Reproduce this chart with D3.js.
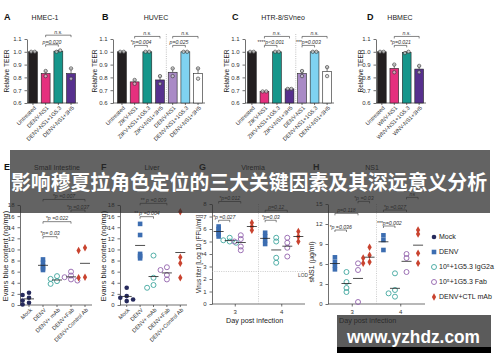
<!DOCTYPE html>
<html>
<head>
<meta charset="utf-8">
<script src="https://cdn.jsdelivr.net/npm/d3@7/dist/d3.min.js"></script>
<style>
body{margin:0;background:#fff;}
svg{display:block;font-family:"Liberation Sans",Arial,sans-serif;}
.axis path,.axis line,.dom{stroke:#333;stroke-width:0.7;fill:none;}
.axis text{font-size:6px;fill:#333;}
.xl text{font-size:5.6px;}
.sig{font-size:5.2px;font-style:italic;fill:#333;}
</style>
</head>
<body>
<div id="chart"></div>
<script>
// ---- top row: relative TEER (two replicates per bar) ----
var teerTicks = [0.6,0.7,0.8,0.9,1.0,1.1];

var hmecLabels = ["Untreated","DENV-NS1","DENV-NS1+1G5.3","DENV-NS1+3H5"];
var hmecReps = [[1.0,1.0],[0.85,0.81],[1.0,1.01],[0.87,0.79]];
var hmecSig = [[1,2,1.055,"p=0.020"],[1,3,1.13,"n.s."]];

var huvecLabels = ["Untreated","ZIKV-NS1","ZIKV-NS1+1G5.3","ZIKV-NS1+3H5","DENV-NS1","DENV-NS1+1G5.3","DENV-NS1+3H5"];
var huvecReps = [[1,1],[0.78,0.75],[1,1.0],[0.81,0.75],[0.87,0.81],[1,1],[0.87,0.79]];
var huvecSig = [[1,2,1.05,"*p=0.004"],[1,3,1.12,"n.s."],[4,5,1.05,"p=0.025"],[4,6,1.12,"n.s."]];

var htrLabels = ["Untreated","ZIKV-NS1","ZIKV-NS1+1G5.3","ZIKV-NS1+3H5","DENV-NS1","DENV-NS1+1G5.3","DENV-NS1+3H5"];
var htrReps = [[1,1],[0.69,0.69],[1,1],[0.71,0.71],[0.85,0.81],[1,1],[0.88,0.81]];
var htrSig = [[1,2,1.05,"****p<0.001"],[1,3,1.12,"n.s."],[4,5,1.05,"***p=0.003"],[4,6,1.12,"n.s."]];

var hbmecLabels = ["Untreated","WNV-NS1","WNV-NS1+1G5.3","WNV-NS1+3H5"];
var hbmecReps = [[1,1],[0.9,0.84],[0.99,1.0],[0.89,0.84]];
var hbmecSig = [[1,2,1.05,"*p=0.021"],[1,3,1.12,"n.s."]];

var barColors4 = ["#231f20","#e5307e","#16968b","#57308e"];
var barColors7 = ["#231f20","#e5307e","#16968b","#57308e","#a98ac6","#7fd2f1","#ffffff"];

// ---- bottom row: Evans blue ----
var evansLabels = ["Mock","DENV","DENV+ mAb","DENV+Fab","DENV+Control Ab"];
var evansTicks = [0,2,4,6,8,10,12,14,16,18];
var intestineVals = [[2.2,1.8,1.3,0.8,0.4,0.1],[8.2,7.6,7.0,6.6,6.3],[5.2,4.7,4.3,3.8],[6.0,5.3,5.0,4.6,4.4],[10.3,9.8,5.0,4.9]];
var intestineSig = [[1,2,12.3,"*p= 0.03"],[1,3,15,"*p =0.022"],[3,4,17.1,"*p =0.037"],[1,4,19,"*p =0.007"]];
var liverVals = [[3.1,1.6,1.3,1.0,0.7],[14.6,12.6,9.2,8.8,8.4],[8.9,4.9,3.6,3.1],[6.8,6.3,5.4,4.6],[16.8,8.6,7.5,4.9]];
var liverSig = [[1,2,15.9,"** p =0.004"],[1,3,18.3,"** p =0.009"]];
var evansMarks = ["mock","denv","mab","fab","ctl"];

// ---- bottom row: viremia and NS1 by day ----
var days = ["3","4"];
var dayMarks = ["denv","mab","fab","ctl"];
var viremiaTicks = [0,1,2,3,4,5,6,7,8];
var viremiaDay3 = [[6.2,6.0,5.8,5.6,5.4],[5.3,5.1,5.0,4.9],[5.5,5.2,5.0,4.6,4.3],[6.5,6.2,5.9]];
var viremiaDay4 = [[5.7,5.4,5.1,4.8],[5.3,5.0,3.7,3.3],[5.3,4.9,4.5,3.8],[5.8,5.4,5.0]];
var viremiaSig = [[0,0,1,6.7,"*p =0.027"],[0,0,2,8.2,"*p=0.012"],[1,0,1,6.7,"*p=0.03"],[1,0,2,7.5,"p=0.12"]];
var viremiaLOD = 2.6;
var ns1Ticks = [0,3,6,9,12,15];
var ns1Day3 = [[7.0,6.3,5.8,5.2],[4.8,3.3,2.4,1.8],[6.1,5.1,0.3],[8.5,7.3,6.9,6.3,6.1]];
var ns1Day4 = [[10.3,9.6,8.1],[4.6,2.1,1.6,1.1],[7.5,6.9,4.8],[11.1,10.5,7.6,6.1]];
var ns1Sig = [[0,0,1,11.1,"*p =0.036"],[0,0,2,13.6,"p=0.118"],[0,2,3,15.4,"*p =0.03"],[1,0,1,11.7,"***p=0.002"],[1,0,2,14.1,"*p =0.027"],[1,2,3,16,"ns"]];
var legendLabels = ["Mock","DENV","10\u2075+1G5.3 IgG2a","10\u2075+1G5.3 Fab","DENV+CTL mAb"];
var legendMarks = ["mock","denv","mab","fab","ctl"];

var svg = d3.select("#chart").append("svg")
    .attr("width",500)
    .attr("height",362);

function $each(arr,fn){ arr.forEach(fn); }

function bracket(g,x1,x2,yy,txt){
    g.append("path")
    .attr("d","M"+x1+","+(yy+2)+"V"+yy+"H"+x2+"V"+(yy+2))
    .attr("fill","none").attr("stroke","#333").attr("stroke-width",0.6);
    g.append("text").attr("class","sig")
    .attr("x",(x1+x2)/2).attr("y",yy-1.2)
    .attr("text-anchor","middle").text(txt);
}

function heading(letter,lx,title,tx,ty){
    svg.append("text").attr("x",lx).attr("y",ty).text(letter)
    .attr("font-weight","bold").attr("font-size",9).attr("fill","#111");
    svg.append("text").attr("x",tx).attr("y",ty).text(title)
    .attr("text-anchor","middle").attr("font-size",7).attr("fill","#222");
}

function yLabel(txt,x,yc,size){
    svg.append("text")
    .attr("transform","translate("+x+","+yc+") rotate(-90)")
    .attr("text-anchor","middle").attr("font-size",size).attr("fill","#222")
    .text(txt);
}

function barPanel(p){
    var g = svg.append("g");
    var y = d3.scaleLinear().domain([0.6,1.1]).range([103,39]);
    var x = d3.scaleBand().domain(p.labels).range(p.range).paddingInner(0.3).paddingOuter(0.12);
    g.append("g").attr("class","axis")
    .attr("transform","translate("+p.axis+",0)")
    .call(d3.axisLeft(y).tickValues(teerTicks).tickFormat(d3.format(".1f")).tickSize(2.5).tickSizeOuter(0));
    g.append("line").attr("class","dom")
    .attr("x1",p.axis).attr("x2",p.range[1]+1)
    .attr("y1",y(0.6)).attr("y2",y(0.6));
    var xg = g.append("g").attr("class","axis xl")
    .attr("transform","translate(0,"+y(0.6)+")")
    .call(d3.axisBottom(x).tickSize(2).tickSizeOuter(0));
    xg.select(".domain").remove();
    xg.selectAll("text")
    .attr("x",0).attr("y",0).attr("dy","0.35em")
    .attr("transform","translate(2,4) rotate(-45)")
    .style("text-anchor","end");

    if(p.split){
        var sx = (x(p.labels[3])+x.bandwidth()+x(p.labels[4]))/2;
        g.append("line").attr("x1",sx).attr("x2",sx).attr("y1",34).attr("y2",y(0.6))
        .attr("stroke","#999").attr("stroke-width",0.6).attr("stroke-dasharray","1,1.2");
    }

    $each(p.reps,function(d,i){
        var m = d3.mean(d), cx = x(p.labels[i])+x.bandwidth()/2;
        var sem = Math.abs(d[0]-d[1])/2;
        if(sem>0.004){
            g.append("path")
            .attr("d","M"+cx+","+y(m)+"V"+y(m+sem)+"M"+(cx-1.6)+","+y(m+sem)+"H"+(cx+1.6))
            .attr("stroke","#222").attr("stroke-width",0.6);
        }
        g.append("rect")
        .attr("x",x(p.labels[i])).attr("width",x.bandwidth())
        .attr("y",y(m)).attr("height",y(0.6)-y(m))
        .attr("fill",p.colors[i]).attr("stroke","#222").attr("stroke-width",0.6);
        $each(d,function(v,k){
            var dx = Math.abs(d[0]-d[1])<0.02 ? (k?1.8:-1.8) : 0;
            g.append("circle").attr("cx",cx+dx).attr("cy",y(v)).attr("r",1.7)
            .attr("fill","rgba(210,210,210,0.7)").attr("stroke","#333").attr("stroke-width",0.6);
        });
    });

    $each(p.sig,function(s){
        var c1 = x(p.labels[s[0]])+x.bandwidth()/2, c2 = x(p.labels[s[1]])+x.bandwidth()/2;
        bracket(g,c1,c2,y(s[2]),s[3]);
    });
}

function drawMark(g,type,cx,cy){
    if(type=="mock"){
        g.append("circle").attr("cx",cx).attr("cy",cy).attr("r",2.3).attr("fill","#262a5c");
    }else if(type=="denv"){
        g.append("rect").attr("x",cx-2.3).attr("y",cy-2.3).attr("width",4.6).attr("height",4.6).attr("fill","#3c6db1");
    }else if(type=="mab"){
        g.append("circle").attr("cx",cx).attr("cy",cy).attr("r",2.5)
        .attr("fill","none").attr("stroke","#3fa69e").attr("stroke-width",0.9);
    }else if(type=="fab"){
        g.append("circle").attr("cx",cx).attr("cy",cy).attr("r",2.5)
        .attr("fill","none").attr("stroke","#9262ad").attr("stroke-width",0.9);
    }else{
        g.append("path").attr("transform","translate("+cx+","+cy+")")
        .attr("d",d3.symbol(d3.symbolDiamond,16)()).attr("fill","#c9432f");
    }
}

function drawPoints(g,vals,cx,y,mark){
    var placed = [];
    $each(vals,function(v){
        var py = y(v), px = cx, k = 0;
        if(mark!="denv"){
            while(k<6 && placed.some(function(q){return Math.abs(q[0]-px)<4.5 && Math.abs(q[1]-py)<3.5;})){
                k++;
                px = cx + (k%2 ? -1 : 1)*Math.ceil(k/2)*3.2;
            }
        }
        placed.push([px,py]);
        drawMark(g,mark,px,py);
    });
    var m = d3.mean(vals);
    g.append("line").attr("x1",cx-5).attr("x2",cx+5).attr("y1",y(m)).attr("y2",y(m))
    .attr("stroke","#222").attr("stroke-width",0.8);
}

function evansPanel(p){
    var g = svg.append("g");
    var y = d3.scaleLinear().domain([0,18]).range([305,205]);
    var x = d3.scaleBand().domain(evansLabels).range(p.range);
    g.append("g").attr("class","axis")
    .attr("transform","translate("+p.axis+",0)")
    .call(d3.axisLeft(y).tickValues(evansTicks).tickSize(2.5).tickSizeOuter(0));
    g.append("line").attr("class","dom")
    .attr("x1",p.axis).attr("x2",p.range[1]).attr("y1",y(0)).attr("y2",y(0));
    var xg = g.append("g").attr("class","axis xl")
    .attr("transform","translate(0,"+y(0)+")")
    .call(d3.axisBottom(x).tickSize(2).tickSizeOuter(0));
    xg.select(".domain").remove();
    xg.selectAll("text")
    .attr("x",0).attr("y",0).attr("dy","0.35em")
    .attr("transform","translate(2,4) rotate(-45)")
    .style("text-anchor","end");
    $each(p.vals,function(vals,i){
        drawPoints(g,vals,x(evansLabels[i])+x.bandwidth()/2,y,evansMarks[i]);
    });
    $each(p.sig,function(s){
        bracket(g,x(evansLabels[s[0]])+x.bandwidth()/2,x(evansLabels[s[1]])+x.bandwidth()/2,y(s[2]),s[3]);
    });
}

function dayPanel(p){
    var g = svg.append("g");
    var y = d3.scaleLinear().domain(p.domain).range([304,204]);
    var xd = d3.scaleBand().domain(days).range(p.range);
    var xi = d3.scaleBand().domain(dayMarks).range([0,xd.bandwidth()]).paddingOuter(0.1);
    function cx(di,gi){ return xd(days[di])+xi(dayMarks[gi])+xi.bandwidth()/2; }
    g.append("g").attr("class","axis")
    .attr("transform","translate("+p.axis+",0)")
    .call(d3.axisLeft(y).tickValues(p.ticks).tickSize(2.5).tickSizeOuter(0));
    var xg = g.append("g").attr("class","axis")
    .attr("transform","translate(0,"+y(0)+")")
    .call(d3.axisBottom(xd).tickSize(2.5).tickSizeOuter(0));
    xg.select(".domain").remove();
    xg.selectAll("text").attr("font-size",6.5);
    g.append("line").attr("class","dom")
    .attr("x1",p.axis).attr("x2",p.range[1]).attr("y1",y(0)).attr("y2",y(0));
    var sx = xd(days[1]);
    g.append("line").attr("x1",sx).attr("x2",sx).attr("y1",204).attr("y2",y(0))
    .attr("stroke","#aaa").attr("stroke-width",0.6).attr("stroke-dasharray","1,1.3");
    if(p.lod){
        g.append("line").attr("x1",p.axis).attr("x2",p.range[1]).attr("y1",y(p.lod)).attr("y2",y(p.lod))
        .attr("stroke","#aaa").attr("stroke-width",0.6).attr("stroke-dasharray","1,1.3");
        g.append("text").attr("x",p.range[1]-7).attr("y",y(p.lod)+5).attr("font-size",4.8)
        .attr("fill","#444").text("LOD");
    }
    $each(p.vals,function(dayVals,di){
        $each(dayVals,function(vals,gi){ drawPoints(g,vals,cx(di,gi),y,dayMarks[gi]); });
    });
    $each(p.sig,function(s){ bracket(g,cx(s[0],s[1]),cx(s[0],s[2]),y(s[3]),s[4]); });
    g.append("text").attr("x",p.labelX).attr("y",323)
    .attr("font-size",7.2).attr("fill","#222")
    .text("Day post infection");
}

// top row
heading("A",4,"HMEC-1",45,20);
heading("B",102,"HUVEC",156,20);
heading("C",232,"HTR-8/SVneo",283,20);
heading("D",367,"HBMEC",400,20);
yLabel("Relative TEER",9,71,6.6);
yLabel("Relative TEER",97,71,6.6);
yLabel("Relative TEER",229,71,6.6);
yLabel("Relative TEER",363,71,6.6);
barPanel({labels:hmecLabels,reps:hmecReps,sig:hmecSig,colors:barColors4,axis:27,range:[27,77]});
barPanel({labels:huvecLabels,reps:huvecReps,sig:huvecSig,colors:barColors7,axis:113,range:[116,204],split:true});
barPanel({labels:htrLabels,reps:htrReps,sig:htrSig,colors:barColors7,axis:245,range:[246,333],split:true});
barPanel({labels:hbmecLabels,reps:hbmecReps,sig:hbmecSig,colors:barColors4,axis:376,range:[376,425]});

// bottom row
heading("E",4,"Small Intestine",57,170);
heading("F",101,"Liver",152,170);
heading("G",199,"Viremia",253,170);
heading("H",313,"NS1",372,170);
yLabel("Evans blue content (ng/mg)",8,256,7.4);
yLabel("Evans blue content (ng/mg)",106,256,7.4);
yLabel("Virus titer [Log 10 (FFU/ml)]",201,254,6.4);
yLabel("sNS1 (\u00b5g/ml)",314,262,7);
evansPanel({vals:intestineVals,sig:intestineSig,axis:20,range:[22,92]});
evansPanel({vals:liverVals,sig:liverSig,axis:120,range:[120,187]});
dayPanel({vals:[viremiaDay3,viremiaDay4],sig:viremiaSig,domain:[0,8],ticks:viremiaTicks,axis:212,range:[212,305],lod:viremiaLOD,labelX:226});
dayPanel({vals:[ns1Day3,ns1Day4],sig:ns1Sig,domain:[0,15],ticks:ns1Ticks,axis:328,range:[328,425],labelX:339});

// legend for H
var lg = svg.append("g");
$each(legendLabels,function(t,i){
    var ly = 237 + i*15;
    drawMark(lg,legendMarks[i],434,ly);
    lg.append("text").attr("x",439).attr("y",ly).attr("dy","0.35em")
    .attr("font-size",7).attr("fill","#222").text(t);
});

// banner overlay
svg.append("rect").attr("x",10).attr("y",150).attr("width",480).attr("height",63)
.attr("fill","rgba(45,45,45,0.74)");
svg.append("text").attr("x",249).attr("y",183).attr("dy","0.35em")
.attr("text-anchor","middle").attr("font-size",20).attr("font-weight","bold")
.attr("font-family","'Noto Sans CJK SC',sans-serif").attr("fill","#fff")
.attr("textLength",476).attr("lengthAdjust","spacingAndGlyphs")
.text("影响穆夏拉角色定位的三大关键因素及其深远意义分析");

// watermark
svg.append("rect").attr("x",337).attr("y",315).attr("width",154).attr("height",32)
.attr("fill","rgba(45,45,45,0.78)");
svg.append("rect").attr("x",337).attr("y",347).attr("width",154).attr("height",6)
.attr("fill","#000");
svg.append("text").attr("x",347).attr("y",343)
.attr("font-size",18).attr("font-weight","bold").attr("fill","#fff")
.attr("textLength",133).attr("lengthAdjust","spacingAndGlyphs")
.text("www.yzhdz.com");
</script>
</body>
</html>
